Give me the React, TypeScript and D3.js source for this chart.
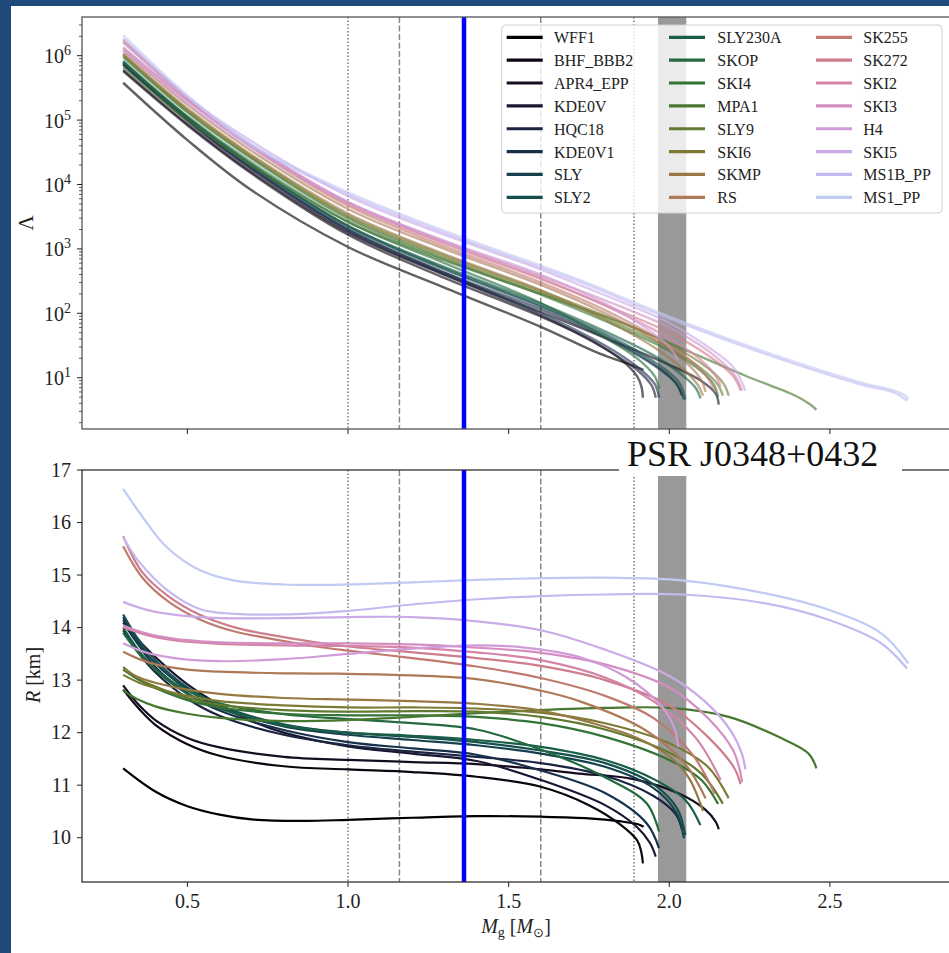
import React from 'react';
import * as d3 from 'd3';

// ---------------- data ----------------
const eosNames = ['WFF1','BHF_BBB2','APR4_EPP','KDE0V','HQC18','KDE0V1','SLY','SLY2','SLY230A','SKOP','SKI4','MPA1','SLY9','SKI6','SKMP','RS','SK255','SK272','SKI2','SKI3','H4','SKI5','MS1B_PP','MS1_PP'];

// Mass (Msun) - radius (km)
const mrWFF1 = [[0.3,11.32],[0.4,10.88],[0.5,10.6],[0.6,10.44],[0.7,10.35],[0.85,10.32],[1.0,10.34],[1.2,10.38],[1.4,10.41],[1.6,10.4],[1.75,10.37],[1.85,10.31],[1.9,10.26],[1.92,10.21]];
const mrBHF_BBB2 = [[0.3,12.82],[0.35,12.45],[0.4,12.15],[0.5,11.78],[0.6,11.56],[0.8,11.36],[1.0,11.3],[1.2,11.25],[1.4,11.16],[1.6,10.97],[1.75,10.62],[1.85,10.24],[1.9,9.95],[1.912,9.75],[1.918,9.51]];
const mrAPR4_EPP = [[0.3,12.9],[0.35,12.52],[0.4,12.24],[0.5,11.9],[0.6,11.72],[0.8,11.54],[1.0,11.48],[1.2,11.44],[1.4,11.4],[1.6,11.3],[1.72,11.22],[1.885,11.12],[2.03,10.84],[2.113,10.53],[2.145,10.3],[2.154,10.16]];
const mrKDE0V = [[0.3,14.15],[0.35,13.75],[0.425,13.3],[0.5,12.92],[0.58,12.6],[0.7,12.22],[0.8,12.0],[1.0,11.74],[1.2,11.6],[1.4,11.46],[1.6,11.1],[1.8,10.62],[1.9,10.2],[1.94,9.9],[1.958,9.64]];
const mrHQC18 = [[0.3,13.95],[0.35,13.5],[0.4,13.15],[0.5,12.65],[0.6,12.32],[0.8,11.96],[1.0,11.76],[1.2,11.64],[1.4,11.54],[1.6,11.42],[1.8,11.18],[1.95,10.8],[2.02,10.45],[2.04,10.15]];
const mrKDE0V1 = [[0.3,14.1],[0.35,13.65],[0.4,13.25],[0.5,12.75],[0.6,12.42],[0.8,12.05],[1.0,11.82],[1.2,11.7],[1.4,11.58],[1.6,11.28],[1.8,10.85],[1.93,10.27],[1.968,9.8]];
const mrSLY = [[0.3,14.2],[0.35,13.7],[0.4,13.32],[0.5,12.82],[0.6,12.48],[0.8,12.12],[1.0,11.96],[1.2,11.86],[1.4,11.76],[1.6,11.6],[1.8,11.35],[1.95,10.95],[2.02,10.5],[2.046,9.99]];
const mrSLY2 = [[0.3,14.25],[0.35,13.75],[0.4,13.38],[0.5,12.86],[0.6,12.52],[0.8,12.16],[1.0,12.0],[1.2,11.92],[1.4,11.82],[1.6,11.66],[1.8,11.42],[1.95,11.02],[2.025,10.55],[2.05,10.05]];
const mrSLY230A = [[0.3,14.0],[0.35,13.55],[0.4,13.2],[0.5,12.74],[0.6,12.46],[0.8,12.14],[1.0,12.0],[1.2,11.94],[1.4,11.86],[1.6,11.73],[1.8,11.48],[1.95,11.12],[2.05,10.72],[2.097,10.24]];
const mrSKOP = [[0.3,13.9],[0.35,13.5],[0.4,13.2],[0.5,12.8],[0.6,12.56],[0.8,12.35],[1.0,12.26],[1.2,12.18],[1.4,12.06],[1.6,11.68],[1.8,11.15],[1.93,10.65],[1.968,10.12]];
const mrSKI4 = [[0.3,13.2],[0.35,13.0],[0.4,12.85],[0.5,12.62],[0.6,12.48],[0.8,12.36],[1.0,12.33],[1.2,12.33],[1.4,12.3],[1.6,12.18],[1.8,11.92],[2.0,11.48],[2.1,11.1],[2.152,10.64]];
const mrMPA1 = [[0.3,12.8],[0.35,12.62],[0.4,12.5],[0.5,12.36],[0.6,12.28],[0.8,12.22],[1.0,12.24],[1.2,12.3],[1.4,12.37],[1.6,12.43],[1.8,12.47],[2.0,12.47],[2.185,12.3],[2.34,11.92],[2.434,11.6],[2.458,11.32]];
const mrSLY9 = [[0.3,13.25],[0.35,13.02],[0.4,12.88],[0.5,12.66],[0.6,12.53],[0.8,12.43],[1.0,12.4],[1.2,12.41],[1.4,12.4],[1.6,12.3],[1.8,12.06],[2.0,11.62],[2.1,11.22],[2.167,10.65]];
const mrSKI6 = [[0.3,13.1],[0.35,12.95],[0.4,12.85],[0.5,12.7],[0.6,12.6],[0.8,12.52],[1.0,12.48],[1.2,12.48],[1.4,12.46],[1.6,12.38],[1.8,12.18],[2.0,11.8],[2.12,11.35],[2.185,10.75]];
const mrSKMP = [[0.3,13.22],[0.35,13.05],[0.4,12.95],[0.5,12.82],[0.6,12.74],[0.8,12.66],[1.0,12.63],[1.2,12.6],[1.4,12.55],[1.6,12.42],[1.75,12.2],[1.9,11.9],[2.0,11.55],[2.06,11.15],[2.105,10.51]];
const mrRS = [[0.3,13.54],[0.35,13.4],[0.4,13.3],[0.5,13.2],[0.6,13.16],[0.8,13.13],[1.0,13.12],[1.2,13.09],[1.4,13.02],[1.6,12.8],[1.72,12.6],[1.925,12.05],[2.05,11.4],[2.113,10.75]];
const mrSK255 = [[0.3,15.55],[0.36,14.95],[0.44,14.5],[0.54,14.15],[0.65,13.92],[0.75,13.8],[0.9,13.64],[1.0,13.56],[1.2,13.42],[1.4,13.26],[1.6,13.04],[1.8,12.7],[1.95,12.28],[2.07,11.6],[2.142,10.83]];
const mrSK272 = [[0.3,15.74],[0.36,15.05],[0.44,14.6],[0.54,14.24],[0.65,14.0],[0.75,13.87],[0.9,13.72],[1.0,13.64],[1.2,13.53],[1.4,13.42],[1.6,13.27],[1.8,13.0],[2.0,12.52],[2.12,11.92],[2.2,11.35],[2.222,11.02]];
const mrSKI2 = [[0.3,14.01],[0.35,13.9],[0.4,13.82],[0.5,13.73],[0.6,13.69],[0.8,13.66],[1.0,13.65],[1.2,13.62],[1.4,13.53],[1.6,13.38],[1.8,13.05],[1.95,12.6],[2.08,11.92],[2.16,11.1]];
const mrSKI3 = [[0.3,14.04],[0.35,13.93],[0.4,13.85],[0.5,13.76],[0.6,13.72],[0.8,13.7],[1.0,13.7],[1.2,13.68],[1.4,13.62],[1.6,13.52],[1.8,13.3],[2.0,12.86],[2.12,12.28],[2.2,11.65],[2.227,11.06]];
const mrH4 = [[0.3,13.7],[0.35,13.57],[0.4,13.48],[0.5,13.39],[0.6,13.36],[0.8,13.4],[1.0,13.5],[1.2,13.6],[1.4,13.66],[1.55,13.62],[1.72,13.44],[1.865,13.06],[1.978,12.49],[2.015,12.1],[2.028,11.73]];
const mrSKI5 = [[0.3,14.49],[0.35,14.38],[0.4,14.3],[0.5,14.22],[0.6,14.18],[0.8,14.18],[1.0,14.2],[1.2,14.2],[1.4,14.12],[1.6,13.95],[1.8,13.58],[2.0,13.08],[2.11,12.6],[2.19,12.05],[2.226,11.6],[2.237,11.3]];
const mrMS1B_PP = [[0.3,15.72],[0.35,15.25],[0.44,14.7],[0.54,14.35],[0.65,14.26],[0.8,14.25],[1.0,14.32],[1.2,14.44],[1.4,14.54],[1.6,14.6],[1.8,14.63],[2.04,14.63],[2.3,14.46],[2.5,14.14],[2.66,13.7],[2.74,13.22]];
const mrMS1_PP = [[0.3,16.64],[0.353,16.17],[0.436,15.53],[0.54,15.09],[0.643,14.9],[0.8,14.82],[1.0,14.82],[1.2,14.86],[1.4,14.91],[1.6,14.94],[1.8,14.95],[2.04,14.9],[2.3,14.65],[2.5,14.33],[2.66,13.89],[2.744,13.32]];

// Mass (Msun) - log10 of tidal deformability Lambda
const mlWFF1 = [[0.3,5.58],[0.5,4.69],[0.7,3.91],[1.0,3.03],[1.3,2.4],[1.6,1.79],[1.78,1.38],[1.88,1.2],[1.92,1.12]];
const mlBHF_BBB2 = [[0.3,5.76],[0.5,4.92],[0.7,4.17],[1.0,3.22],[1.3,2.55],[1.6,1.95],[1.75,1.6],[1.85,1.28],[1.9,1.02],[1.914,0.85],[1.918,0.69]];
const mlAPR4_EPP = [[0.3,5.78],[0.5,4.94],[0.7,4.19],[1.0,3.25],[1.3,2.6],[1.6,2.02],[1.8,1.62],[2.0,1.2],[2.1,0.95],[2.145,0.75],[2.154,0.58]];
const mlKDE0V = [[0.3,5.86],[0.5,4.99],[0.7,4.23],[1.0,3.27],[1.3,2.6],[1.6,1.97],[1.8,1.45],[1.9,1.12],[1.945,0.88],[1.958,0.69]];
const mlHQC18 = [[0.3,5.86],[0.5,5.0],[0.7,4.25],[1.0,3.3],[1.3,2.63],[1.6,2.06],[1.8,1.62],[1.95,1.2],[2.02,0.92],[2.04,0.72]];
const mlKDE0V1 = [[0.3,5.88],[0.5,5.01],[0.7,4.26],[1.0,3.3],[1.3,2.63],[1.6,2.0],[1.8,1.5],[1.9,1.17],[1.955,0.9],[1.968,0.69]];
const mlSLY = [[0.3,5.9],[0.5,5.03],[0.7,4.29],[1.0,3.34],[1.3,2.68],[1.6,2.1],[1.8,1.65],[1.95,1.22],[2.02,0.92],[2.046,0.66]];
const mlSLY2 = [[0.3,5.92],[0.5,5.05],[0.7,4.31],[1.0,3.36],[1.3,2.7],[1.6,2.12],[1.8,1.68],[1.95,1.26],[2.03,0.93],[2.05,0.66]];
const mlSLY230A = [[0.3,5.89],[0.5,5.03],[0.7,4.3],[1.0,3.36],[1.3,2.72],[1.6,2.15],[1.8,1.72],[1.95,1.35],[2.05,1.0],[2.085,0.82],[2.097,0.68]];
const mlSKOP = [[0.3,5.9],[0.5,5.06],[0.7,4.34],[1.0,3.42],[1.3,2.78],[1.6,2.16],[1.8,1.62],[1.9,1.3],[1.955,1.02],[1.968,0.83]];
const mlSKI4 = [[0.3,5.98],[0.5,5.12],[0.7,4.4],[1.0,3.47],[1.3,2.84],[1.6,2.29],[1.8,1.88],[2.0,1.42],[2.1,1.1],[2.14,0.88],[2.152,0.7]];
const mlMPA1 = [[0.3,5.82],[0.5,5.0],[0.7,4.3],[1.0,3.42],[1.3,2.82],[1.6,2.3],[1.885,1.79],[2.05,1.43],[2.237,1.03],[2.393,0.72],[2.44,0.58],[2.458,0.5]];
const mlSLY9 = [[0.3,6.0],[0.5,5.14],[0.7,4.42],[1.0,3.5],[1.3,2.87],[1.6,2.32],[1.8,1.92],[2.0,1.46],[2.1,1.14],[2.15,0.9],[2.167,0.72]];
const mlSKI6 = [[0.3,6.02],[0.5,5.16],[0.7,4.44],[1.0,3.52],[1.3,2.9],[1.6,2.35],[1.8,1.96],[2.0,1.52],[2.12,1.15],[2.17,0.9],[2.185,0.72]];
const mlSKMP = [[0.3,6.03],[0.5,5.18],[0.7,4.46],[1.0,3.55],[1.3,2.92],[1.6,2.36],[1.8,1.9],[1.95,1.48],[2.05,1.1],[2.09,0.88],[2.105,0.72]];
const mlRS = [[0.3,6.08],[0.5,5.24],[0.7,4.52],[1.0,3.62],[1.3,3.0],[1.6,2.44],[1.8,2.0],[1.95,1.6],[2.06,1.2],[2.1,0.96],[2.113,0.78]];
const mlSK255 = [[0.3,6.22],[0.5,5.33],[0.7,4.58],[1.0,3.67],[1.3,3.04],[1.6,2.48],[1.8,2.05],[1.95,1.65],[2.07,1.25],[2.125,0.96],[2.142,0.78]];
const mlSK272 = [[0.3,6.25],[0.5,5.35],[0.7,4.6],[1.0,3.7],[1.3,3.08],[1.6,2.53],[1.8,2.13],[2.0,1.7],[2.12,1.35],[2.2,1.02],[2.222,0.8]];
const mlSKI2 = [[0.3,6.12],[0.5,5.3],[0.7,4.6],[1.0,3.72],[1.3,3.1],[1.6,2.55],[1.8,2.12],[1.95,1.75],[2.08,1.35],[2.14,1.06],[2.16,0.86]];
const mlSKI3 = [[0.3,6.13],[0.5,5.31],[0.7,4.61],[1.0,3.73],[1.3,3.12],[1.6,2.58],[1.8,2.2],[2.0,1.78],[2.12,1.42],[2.2,1.06],[2.227,0.8]];
const mlH4 = [[0.3,6.08],[0.5,5.26],[0.7,4.57],[1.0,3.72],[1.3,3.13],[1.6,2.6],[1.8,2.15],[1.93,1.76],[2.0,1.48],[2.028,1.27]];
const mlSKI5 = [[0.3,6.2],[0.5,5.35],[0.7,4.67],[1.0,3.82],[1.3,3.22],[1.6,2.68],[1.8,2.28],[2.0,1.85],[2.12,1.48],[2.2,1.16],[2.237,0.8]];
const mlMS1B_PP = [[0.3,6.27],[0.5,5.36],[0.7,4.6],[1.0,3.85],[1.3,3.25],[1.6,2.71],[1.72,2.49],[2.03,1.86],[2.34,1.3],[2.6,0.89],[2.7,0.77],[2.74,0.64]];
const mlMS1_PP = [[0.3,6.32],[0.5,5.385],[0.7,4.62],[1.0,3.88],[1.3,3.28],[1.6,2.74],[1.72,2.52],[2.03,1.89],[2.34,1.33],[2.6,0.92],[2.7,0.8],[2.735,0.72],[2.744,0.66]];

const mrCurves = [mrWFF1,mrBHF_BBB2,mrAPR4_EPP,mrKDE0V,mrHQC18,mrKDE0V1,mrSLY,mrSLY2,mrSLY230A,mrSKOP,mrSKI4,mrMPA1,mrSLY9,mrSKI6,mrSKMP,mrRS,mrSK255,mrSK272,mrSKI2,mrSKI3,mrH4,mrSKI5,mrMS1B_PP,mrMS1_PP];
const mlCurves = [mlWFF1,mlBHF_BBB2,mlAPR4_EPP,mlKDE0V,mlHQC18,mlKDE0V1,mlSLY,mlSLY2,mlSLY230A,mlSKOP,mlSKI4,mlMPA1,mlSLY9,mlSKI6,mlSKMP,mlRS,mlSK255,mlSK272,mlSKI2,mlSKI3,mlH4,mlSKI5,mlMS1B_PP,mlMS1_PP];

// reference masses
const refDotted = [1.0, 1.89];
const refDashed = [1.16, 1.6];
const refSolid = [1.361];
const bandRange = [1.965, 2.053];
const bandLabel = 'PSR J0348+0432';

const xTicks = [0.5, 1.0, 1.5, 2.0, 2.5];
const xTickLabels = ['0.5', '1.0', '1.5', '2.0', '2.5'];
const rTicks = [10, 11, 12, 13, 14, 15, 16, 17];
const lambdaExps = [1, 2, 3, 4, 5, 6];

// ---------------- layout ----------------
const W = 949, H = 953;
const PL = 82, PR = 960;
const T1 = 17, B1 = 429, T2 = 470, B2 = 882;
const FONT = '"Liberation Serif", "Times New Roman", serif';
const FRAME = '#1f4a7c';

export default function App() {
  const x = d3.scaleLinear().domain([0.1719, 2.905]).range([PL, PR]);
  const yTop = d3.scaleLog().domain([1.597, 3.99e6]).range([B1, T1]);
  const yBot = d3.scaleLinear().domain([9.157, 17]).range([B2, T2]);
  const colors = eosNames.map((_, i) => d3.interpolateCubehelixDefault((i / 23) * 0.8));

  const lineR = d3.line<number[]>().x(d => x(d[0])).y(d => yBot(d[1])).curve(d3.curveCatmullRom.alpha(0.5));
  const lineL = d3.line<number[]>().x(d => x(d[0])).y(d => yTop(Math.pow(10, d[1]))).curve(d3.curveCatmullRom.alpha(0.5));

  const refs = (top: number, bottom: number, key: string) => (
    <g key={key}>
      <rect x={x(bandRange[0])} y={top} width={x(bandRange[1]) - x(bandRange[0])} height={bottom - top} fill="#999999" />
      {refDotted.map((m, i) => (
        <line key={'dt' + i} x1={x(m)} x2={x(m)} y1={top} y2={bottom} stroke="#777" strokeWidth={1.5} strokeDasharray="1.5,2" />
      ))}
      {refDashed.map((m, i) => (
        <line key={'ds' + i} x1={x(m)} x2={x(m)} y1={top} y2={bottom} stroke="#888" strokeWidth={1.5} strokeDasharray="6,2.5" />
      ))}
    </g>
  );
  const blue = (top: number, bottom: number) =>
    refSolid.map((m, i) => (
      <line key={'b' + i + top} x1={x(m)} x2={x(m)} y1={top} y2={bottom} stroke="#0000ff" strokeWidth={4.5} />
    ));

  const minorLog: number[] = [];
  for (let k = 0; k <= 6; k++) {
    for (let m = 2; m <= 9; m++) {
      const v = m * Math.pow(10, k);
      if (v > 1.597 && v < 3.99e6) minorLog.push(v);
    }
  }

  const legX = [506.7, 669, 816];
  const legTX = [554, 717.3, 863.3];

  return (
    <div style={{ position: 'absolute', left: 0, top: 0 }}>
      <svg width={W} height={H} style={{ display: 'block', fontFamily: FONT }}>
        <defs>
          <clipPath id="c1"><rect x={PL} y={T1} width={PR - PL} height={B1 - T1} /></clipPath>
          <clipPath id="c2"><rect x={PL} y={T2} width={PR - PL} height={B2 - T2} /></clipPath>
        </defs>
        <rect x={0} y={0} width={W} height={H} fill="#fff" />

        {/* top panel */}
        <g clipPath="url(#c1)">
          {refs(T1, B1, 'r1')}
          {mlCurves.map((c, i) => (
            <path key={'l' + i} d={lineL(c) || ''} fill="none" stroke={colors[i]} strokeOpacity={0.62} strokeWidth={2.4} />
          ))}
          {blue(T1, B1)}
        </g>
        {/* bottom panel */}
        <g clipPath="url(#c2)">
          {refs(T2, B2, 'r2')}
          {mrCurves.map((c, i) => (
            <path key={'r' + i} d={lineR(c) || ''} fill="none" stroke={colors[i]} strokeWidth={2.2} />
          ))}
          {blue(T2, B2)}
        </g>

        {/* spines */}
        <rect x={PL} y={T1} width={PR - PL} height={B1 - T1} fill="none" stroke="#555" strokeWidth={1.3} />
        <rect x={PL} y={T2} width={PR - PL} height={B2 - T2} fill="none" stroke="#222" strokeWidth={1.2} />

        {/* x ticks */}
        {xTicks.map((t, i) => (
          <g key={'xt' + i}>
            <line x1={x(t)} x2={x(t)} y1={B1} y2={B1 + 5} stroke="#222" strokeWidth={1} />
            <line x1={x(t)} x2={x(t)} y1={B2} y2={B2 + 5} stroke="#222" strokeWidth={1} />
            <text x={x(t)} y={908} textAnchor="middle" fontSize={20} fill="#222">{xTickLabels[i]}</text>
          </g>
        ))}

        {/* top y ticks */}
        {lambdaExps.map(e => (
          <g key={'ye' + e}>
            <line x1={PL - 5} x2={PL} y1={yTop(Math.pow(10, e))} y2={yTop(Math.pow(10, e))} stroke="#222" strokeWidth={1} />
            <text x={71} y={yTop(Math.pow(10, e)) + 7.6} textAnchor="end" fontSize={20} fill="#222">
              10<tspan fontSize={14} dy={-8}>{e}</tspan>
            </text>
          </g>
        ))}
        {minorLog.map((v, i) => (
          <line key={'mn' + i} x1={PL - 3} x2={PL} y1={yTop(v)} y2={yTop(v)} stroke="#333" strokeWidth={0.8} />
        ))}

        {/* bottom y ticks */}
        {rTicks.map(r => (
          <g key={'rt' + r}>
            <line x1={PL - 5} x2={PL} y1={yBot(r)} y2={yBot(r)} stroke="#222" strokeWidth={1} />
            <text x={71} y={yBot(r) + 6.7} textAnchor="end" fontSize={20} fill="#222">{r}</text>
          </g>
        ))}

        {/* axis labels */}
        <text transform="translate(33,223) rotate(-90)" textAnchor="middle" fontSize={21} fill="#222">Λ</text>
        <text transform="translate(40,675) rotate(-90)" textAnchor="middle" fontSize={20} fill="#222">
          <tspan fontStyle="italic">R</tspan> [km]
        </text>
        <text x={516} y={933} textAnchor="middle" fontSize={20} fill="#222">
          <tspan fontStyle="italic">M</tspan><tspan fontSize={14} dy={4}>g</tspan><tspan dy={-4}> [</tspan><tspan fontStyle="italic">M</tspan><tspan fontSize={13} dy={4}>⊙</tspan><tspan dy={-4}>]</tspan>
        </text>

        {/* legend */}
        <rect x={501.7} y={25} width={440.3} height={188} rx={4} fill="#fff" fillOpacity={0.8} stroke="#d0d0d0" strokeWidth={1} />
        {eosNames.map((n, i) => {
          const col = Math.floor(i / 8);
          const row = i % 8;
          const yy = 37.3 + row * 22.86;
          return (
            <g key={'lg' + i}>
              <line x1={legX[col]} x2={legX[col] + 36} y1={yy} y2={yy} stroke={colors[i]} strokeWidth={3.2} />
              <text x={legTX[col]} y={yy + 6} fontSize={16} fill="#222">{n}</text>
            </g>
          );
        })}

        {/* PSR label */}
        <rect x={619} y={436} width={283} height={40} fill="#fff" />
        <text x={627} y={465.5} fontSize={36} fill="#111">{bandLabel}</text>

        {/* frame */}
        <rect x={0} y={0} width={11} height={H} fill={FRAME} />
        <rect x={0} y={0} width={W} height={6} fill={FRAME} />
      </svg>
    </div>
  );
}
